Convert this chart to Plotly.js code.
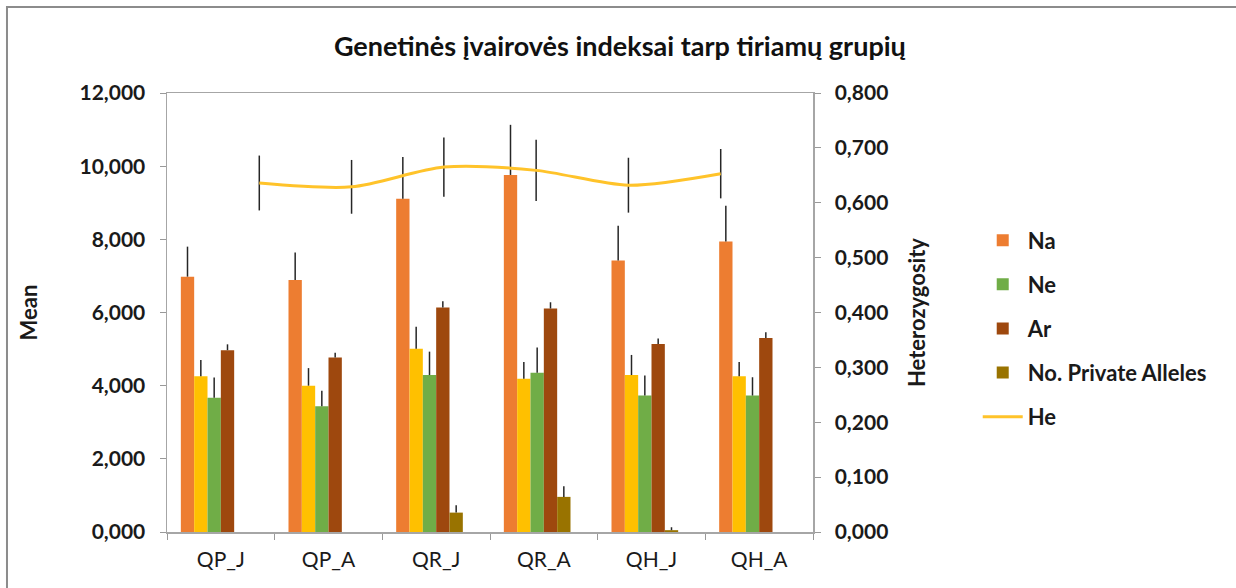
<!DOCTYPE html>
<html><head><meta charset="utf-8">
<script src="https://cdn.plot.ly/plotly-3.0.1.min.js"></script>
<style>html,body{margin:0;padding:0;background:#fff}#chart{width:1236px;height:588px}</style>
</head><body><div id="chart"></div>
<script>
const groups = ['QP_J','QP_A','QR_J','QR_A','QH_J','QH_A'];
const na = [6.98, 6.89, 9.11, 9.76, 7.42, 7.94];
const naErr = [0.82, 0.75, 1.14, 1.37, 0.95, 0.98];
const yellowSeries = [4.26, 4.00, 5.01, 4.19, 4.29, 4.26];
const yellowErr = [0.44, 0.48, 0.60, 0.46, 0.55, 0.39];
const ne = [3.67, 3.44, 4.29, 4.35, 3.73, 3.73];
const neErr = [0.55, 0.42, 0.64, 0.69, 0.55, 0.50];
const ar = [4.97, 4.77, 6.14, 6.11, 5.14, 5.30];
const arErr = [0.16, 0.13, 0.17, 0.17, 0.15, 0.16];
const pa = [0, 0, 0.53, 0.96, 0.05, 0];
const paErr = [0, 0, 0.20, 0.29, 0.08, 0];
const spacer = [null, null, null, null, null, null];
const he = [0.636, 0.629, 0.665, 0.659, 0.632, 0.653];
const heErr = [0.050, 0.049, 0.054, 0.056, 0.050, 0.045];

const errStyle = arr => ({type:'data', array:arr, arrayminus:arr.map(()=>0), symmetric:false, color:'#262626', thickness:1.5, width:0, visible:true});

function barTrace(name, y, err, color, showlegend){
  return {type:'bar', name:name, x:groups, y:y, marker:{color:color},
    error_y: errStyle(err), showlegend:showlegend, legendgroup:name, hoverinfo:'name+y'};
}

const data = [
  barTrace('Na', na, naErr, '#ED7D31', true),
  barTrace('Ne ', yellowSeries, yellowErr, '#FFC000', false),
  barTrace('Ne', ne, neErr, '#70AD47', true),
  barTrace('Ar', ar, arErr, '#9E480E', true),
  barTrace('No. Private Alleles', pa, paErr, '#997300', true),
  {type:'bar', name:'spacer', x:groups, y:spacer, showlegend:false, hoverinfo:'skip', marker:{color:'rgba(0,0,0,0)'}},
  {type:'scatter', mode:'lines', name:'He', x:groups, y:he, xaxis:'x2', yaxis:'y2',
   line:{color:'#FFC32A', width:3, shape:'spline', smoothing:0.8}, legendgroup:'He',
   error_y:{type:'data', array:heErr, color:'#262626', thickness:1.5, width:0, visible:true}}
];

const FAM = 'Lato, "Open Sans", sans-serif';
const tickFont = {family:FAM, size:21, color:'#1a1a1a', weight:'bold'};
const labFont = {family:FAM, size:22, color:'#1a1a1a', weight:'bold'};

const layout = {
  width:1236, height:588,
  margin:{l:167, r:423, t:93, b:56},
  paper_bgcolor:'#fff', plot_bgcolor:'#fff',
  separators:', ',
  barmode:'group', bargap:0.257, bargroupgap:0,
  title:{text:'Genetinės įvairovės indeksai tarp tiriamų grupių', x:0.701, xref:'paper', xanchor:'center',
         y:1.087, yref:'paper', yanchor:'middle',
         font:{family:FAM, size:27, color:'#111', weight:'bold'}},
  xaxis:{type:'category', tickson:'boundaries', ticks:'outside', ticklen:6, tickcolor:'#999',
    showline:true, linecolor:'#a6a6a6', linewidth:1.5, mirror:true, showgrid:false,
    ticklabelstandoff:8,
    tickfont:{family:FAM, size:21, color:'#1a1a1a'}},
  xaxis2:{type:'category', overlaying:'x', range:[-1, 6], visible:false, showgrid:false},
  yaxis:{range:[0,12], dtick:2, tickformat:'.3f', ticks:'outside', ticklen:6, tickcolor:'#999',
    showline:true, linecolor:'#a6a6a6', linewidth:1.5, showgrid:false, zeroline:false,
    ticklabelstandoff:10,
    tickfont:tickFont,
    title:{text:'Mean', font:labFont, standoff:36}},
  yaxis2:{range:[0,0.8], dtick:0.1, tickformat:'.3f', overlaying:'y', side:'right', ticks:'outside', ticklen:6, tickcolor:'#999',
    showline:true, linecolor:'#a6a6a6', linewidth:1.5, showgrid:false, zeroline:false,
    ticklabelstandoff:10,
    tickfont:tickFont,
    title:{text:'Heterozygosity', font:labFont, standoff:22}},
  legend:{x:1.255, xanchor:'left', y:0.712, yanchor:'top', traceorder:'grouped', tracegroupgap:12.5,
    font:labFont, bgcolor:'rgba(0,0,0,0)', itemwidth:40},
  shapes:[{type:'rect', xref:'paper', yref:'paper', x0:-0.2477, x1:1.70, y0:-0.2, y1:1.196,
    line:{color:'#8c8c8c', width:2}, fillcolor:'rgba(0,0,0,0)', layer:'below'}],
  showlegend:true
};

Plotly.newPlot('chart', data, layout, {displayModeBar:false, staticPlot:true});
</script></body></html>
